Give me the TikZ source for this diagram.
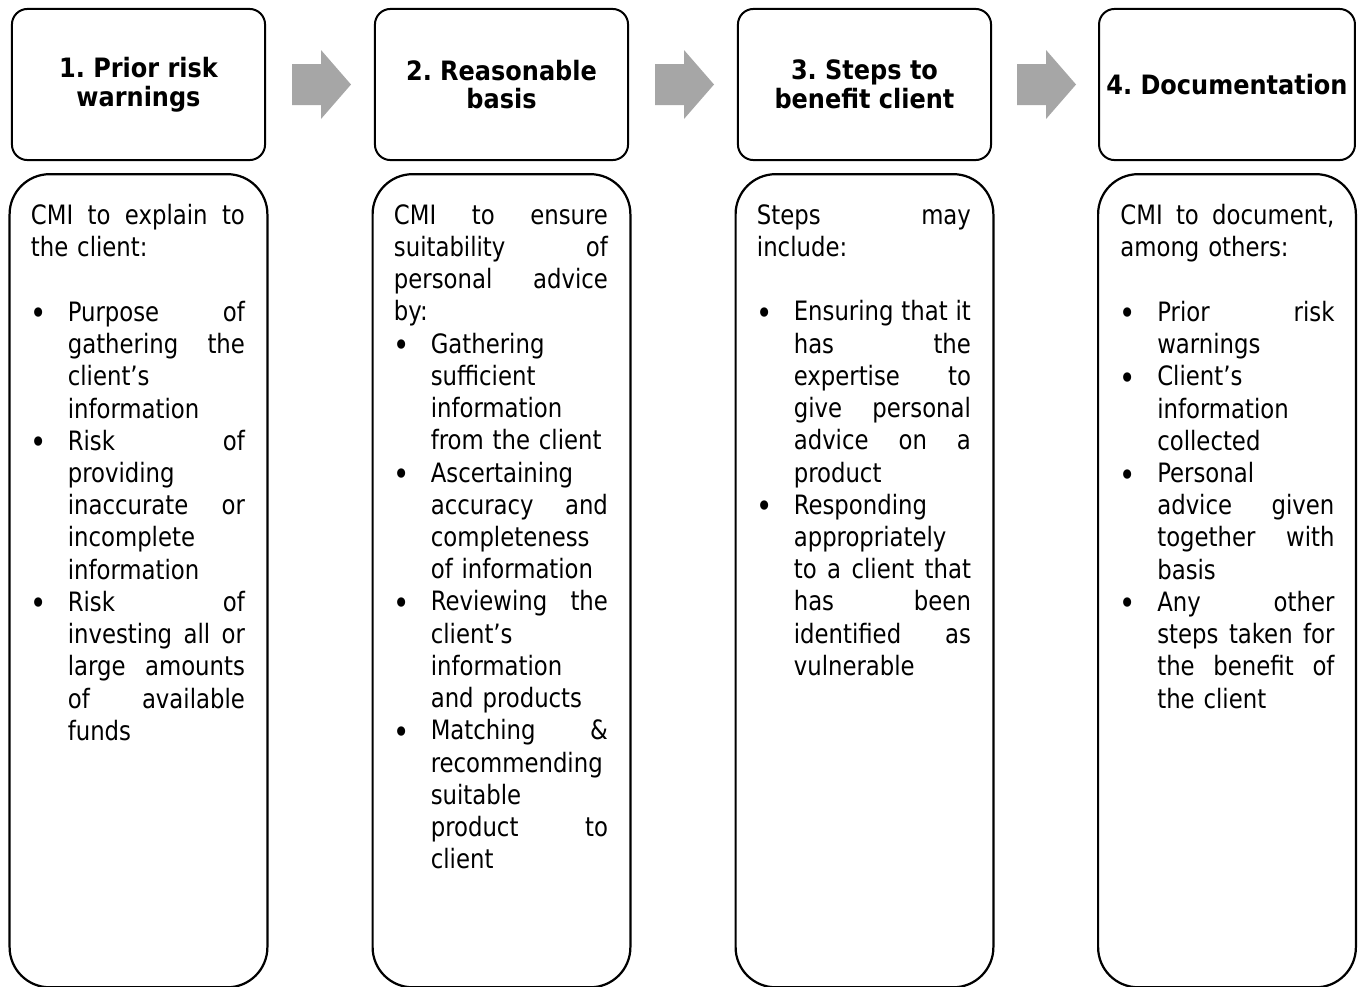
\documentclass[tikz,border=0pt]{standalone}
\usepackage{fontspec}
\setmainfont[UprightFeatures={FakeStretch=0.95}]{DejaVu Sans Condensed}
\usetikzlibrary{positioning,calc}

\definecolor{arrowgray}{HTML}{A6A6A6}
\frenchspacing

% hanging indent of the bullet lists
\newlength\bulind
\setlength\bulind{16.6pt}
% one justified line (words pushed apart), one plain (last) line, a bullet in front
\def\jsplit#1 #2\jend{#1\ifx\relax#2\relax\else\hfill\jsplit#2\jend\fi}
\newcommand\jline[1]{\leavevmode\hbox to\dimexpr\hsize-\leftskip\relax{\jsplit#1 \jend}\par}
\newcommand\lline[1]{#1\par}
\newcommand\bu{\leavevmode\llap{\makebox[\bulind][l]{\hspace{-0.3pt}\raisebox{-1.6pt}{\fontsize{14.5}{14.5}\selectfont\textbullet}}}}
\newcommand\bset{\leftskip=\bulind}
\newcommand\blank{\mbox{}\par}

\tikzset{
  headbox/.style={draw,line width=0.9pt,rounded corners=7pt,
    minimum width=113.9pt,minimum height=68pt,align=center,
    font=\bfseries\fontsize{12}{13}\selectfont},
  bodybox/.style={draw,line width=1pt,rounded corners=18pt,
    minimum width=116pt,minimum height=365.9pt},
  bodytext/.style={anchor=north west,inner sep=0pt,text width=96.3pt,
    font=\fontsize{12}{14.5}\selectfont,
    execute at begin node={\setlength\parindent{0pt}}},
}

\begin{document}
\begin{tikzpicture}[x=0.45pt,y=-0.45pt]
\useasboundingbox (0,0) rectangle (1362,987);
%headers
\node[headbox] (hd1) at (138.5,84.5) {1. Prior risk\\warnings};
\node[headbox] (hd2) at (501.5,84.5) {2. Reasonable\\basis};
\node[headbox] (hd3) at (864.5,84.5) {3. Steps to\\benefit client};
\node[headbox] (hd4) at (1227,84.5) {4. Documentation};
%gray arrows between the headers
\foreach \a/\b in {hd1/hd2,hd2/hd3,hd3/hd4}
{
\fill[arrowgray] ($(\a.east)!0.5!(\b.west)+(1.5,0)$) ++(-29.5,-20.5) -- ++(29,0) -- ++(0,-14)
  -- ++(30,34.5) -- ++(-30,34.5) -- ++(0,-14) -- ++(-29,0) -- cycle;
}
%tall boxes below
\node[bodybox,below=5.4pt of hd1] (bd1) {};
\node[bodybox,below=5.4pt of hd2] (bd2) {};
\node[bodybox,below=5.4pt of hd3] (bd3) {};
\node[bodybox,below=5.4pt of hd4] (bd4) {};
%texts
\node[bodytext] (tx1) at ($(bd1.north west)+(22,31)$) {%
\jline{CMI to explain to}
\lline{the client:}
\blank
\bset
\bu\jline{Purpose of}
\jline{gathering the}
\lline{client’s}
\lline{information}
\bu\jline{Risk of}
\lline{providing}
\jline{inaccurate or}
\lline{incomplete}
\lline{information}
\bu\jline{Risk of}
\jline{investing all or}
\jline{large amounts}
\jline{of available}
\lline{funds}};
\node[bodytext] (tx2) at ($(bd2.north west)+(22,31)$) {%
\jline{CMI to ensure}
\jline{suitability of}
\jline{personal advice}
\lline{by:}
\bset
\bu\lline{Gathering}
\lline{sufficient}
\lline{information}
\lline{from the client}
\bu\lline{Ascertaining}
\jline{accuracy and}
\lline{completeness}
\lline{of information}
\bu\jline{Reviewing the}
\lline{client’s}
\lline{information}
\lline{and products}
\bu\jline{Matching \&}
\lline{recommending}
\lline{suitable}
\jline{product to}
\lline{client}};
\node[bodytext] (tx3) at ($(bd3.north west)+(22,31)$) {%
\jline{Steps may}
\lline{include:}
\blank
\bset
\bu\jline{Ensuring that it}
\jline{has the}
\jline{expertise to}
\jline{give personal}
\jline{advice on a}
\lline{product}
\bu\lline{Responding}
\lline{appropriately}
\jline{to a client that}
\jline{has been}
\jline{identified as}
\lline{vulnerable}};
\node[bodytext] (tx4) at ($(bd4.north west)+(23,31)$) {%
\jline{CMI to document,}
\lline{among others:}
\blank
\bset
\bu\jline{Prior risk}
\lline{warnings}
\bu\lline{Client’s}
\lline{information}
\lline{collected}
\bu\lline{Personal}
\jline{advice given}
\jline{together with}
\lline{basis}
\bu\jline{Any other}
\jline{steps taken for}
\jline{the benefit of}
\lline{the client}};
\end{tikzpicture}
\end{document}
